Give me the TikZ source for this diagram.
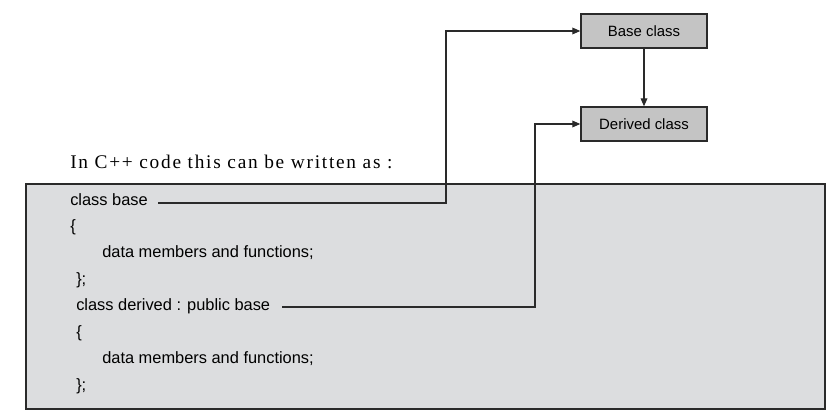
\documentclass[tikz,border=0pt]{standalone}
\usepackage{fontspec}
\setmainfont{Liberation Serif}
\setsansfont{Liberation Sans}
\usetikzlibrary{calc,arrows.meta}

\definecolor{boxgray}{HTML}{C4C4C4}
\definecolor{codegray}{HTML}{DCDDDF}
\definecolor{edge}{HTML}{2A2A2A}

\begin{document}
\begin{tikzpicture}[x=0.75pt,y=-0.75pt,
        classbox/.style={draw=edge,fill=boxgray,line width=1pt,minimum width=94.5pt,
            minimum height=25.5pt,font=\sffamily\fontsize{11.2}{13}\selectfont},
        codeline/.style={anchor=base west,inner sep=0pt,font=\sffamily\fontsize{12.3}{14}\selectfont},
        link/.style={draw=edge,line width=0.9pt,-{Triangle[length=6pt,width=5pt]}}]
        \useasboundingbox (0,0) rectangle (834,417);

        % Class boxes
        \node[classbox] (basebox) at (644,31) {Base class};
        \node[classbox] (derivedbox) at (644,124) {Derived class};
        \draw[link] (basebox) -- (derivedbox);

        % Heading
        \node[anchor=base west,inner sep=0pt,
            font=\fontsize{14.5}{16}\selectfont\addfontfeatures{LetterSpace=9}] (heading) at (70,168)
            {In C++ code this can be written as :};

        % Code panel
        \draw[draw=edge,fill=codegray,line width=1.5pt] (26,184) rectangle (825,409);

        % Code lines
        \node[codeline] (basecode) at (70,205) {class base};
        \node[codeline] (baseopen) at (70,231) {\{};
        \node[codeline] (basebody) at (102,257) {data members and functions;};
        \node[codeline] (baseclose) at (76,284) {\};};
        \node[codeline] (derivedcode) at (76,310) {class derived : public base};
        \node[codeline] (derivedopen) at (76,337) {\{};
        \node[codeline] (derivedbody) at (102,363) {data members and functions;};
        \node[codeline] (derivedclose) at (76,390) {\};};

        % Links to the boxes
        \coordinate (baseturn) at (446,203);
        \coordinate (derivedturn) at (535,307);
        \draw[link] ($(basecode.base east)+(10,-2)$) -- (baseturn) |- (basebox.west);
        \draw[link] ($(derivedcode.base east)+(12,-3)$) -- (derivedturn) |- (derivedbox.west);
    \end{tikzpicture}
\end{document}
